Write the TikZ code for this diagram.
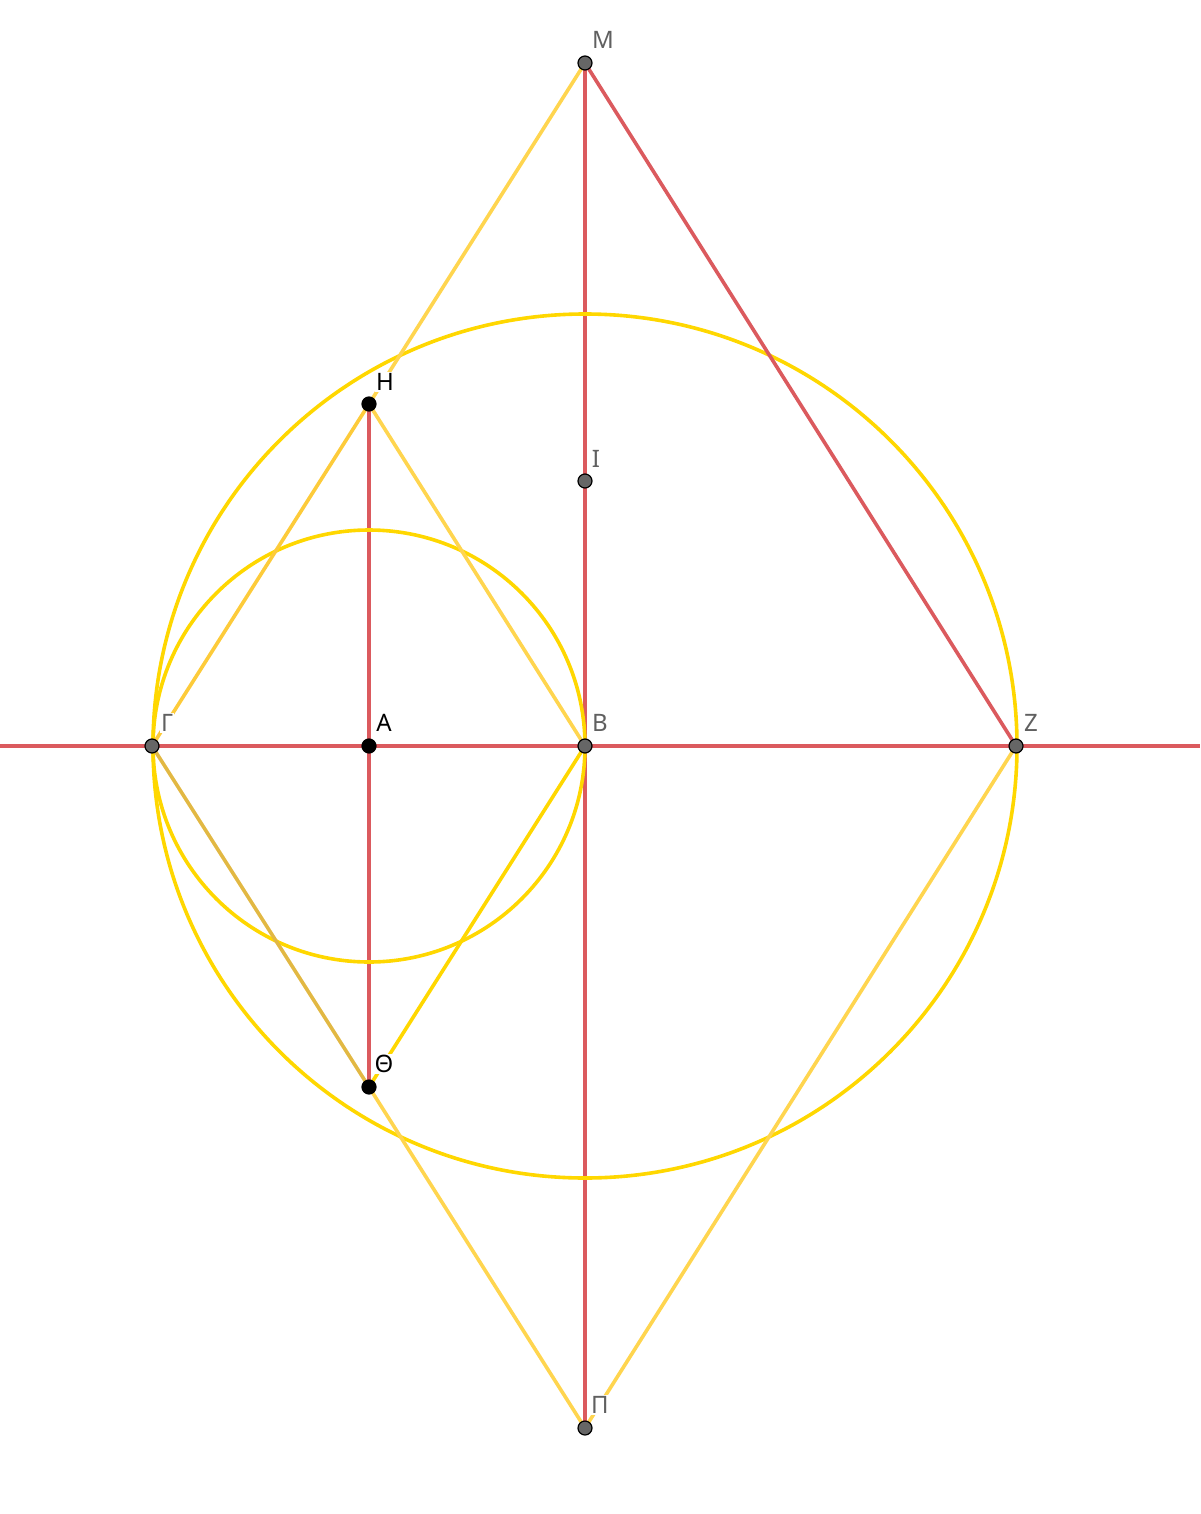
\documentclass[tikz,border=0pt]{standalone}
\usepackage{fontspec}
\setmainfont{Noto Sans}
\definecolor{redl}{HTML}{DB5A5E}
\definecolor{goldc}{HTML}{FFD700}
\definecolor{ylw}{HTML}{FFD54F}
\definecolor{ylwd}{HTML}{FDCB3A}
\definecolor{olive}{HTML}{E2B843}
\definecolor{lblgray}{HTML}{606060}
\definecolor{ptgray}{HTML}{666666}
\tikzset{
  redline/.style={draw=redl,line width=1.8pt},
  circ/.style={draw=goldc,line width=1.8pt},
  yline/.style={draw=ylw,line width=1.8pt},
  gpt/.style={circle,fill=ptgray,draw=black,line width=0.6pt,minimum size=7pt,inner sep=0pt},
  bpt/.style={circle,fill=black,draw=black,line width=0.6pt,minimum size=7pt,inner sep=0pt},
  glbl/.style={fill=white,inner sep=0.6pt,text=lblgray,font=\fontsize{12}{14}\selectfont},
  blbl/.style={fill=white,inner sep=0.6pt,text=black,font=\fontsize{12}{14}\selectfont}
}
\begin{document}
\begin{tikzpicture}[x=0.5pt,y=-0.5pt]
\useasboundingbox (0,0) rectangle (1200,1514);
\coordinate (M) at (585,63);
\coordinate (H) at (369,404);
\coordinate (I) at (585,481);
\coordinate (G) at (152,746);
\coordinate (A) at (369,746);
\coordinate (B) at (585,746);
\coordinate (Z) at (1016,746);
\coordinate (T) at (369,1087);
\coordinate (P) at (585,1428);
\coordinate (L) at (0,746);
\coordinate (R) at (1200,746);
% red lines
\draw[redline] (L) -- (R);
\draw[redline] (M) -- (P);
\draw[redline] (H) -- (T);
% circles
\draw[circ] (A) circle[radius=216];
\draw[circ] (B) circle[radius=432];
% yellow lines
\draw[yline] (H) -- (M);
\draw[yline,draw=ylwd] (G) -- (H);
\draw[yline] (H) -- (B);
\draw[yline,draw=goldc] (B) -- (T);
\draw[yline,draw=olive] (G) -- (T);
\draw[yline] (T) -- (P);
\draw[yline] (Z) -- (P);
\draw[redline] (M) -- (Z);
% labels
\node[glbl] (lM) at (603,40) {M};
\node[blbl] (lH) at (385,382) {H};
\node[glbl] (lI) at (596,459) {I};
\node[glbl] (lG) at (167,723) {Γ};
\node[blbl] (lA) at (384,723) {A};
\node[glbl] (lB) at (600,723) {B};
\node[glbl] (lZ) at (1031,723) {Z};
\node[blbl] (lT) at (384,1064) {Θ};
\node[glbl] (lP) at (600,1405) {Π};
% points
\node[gpt] (dM) at (M) {};
\node[bpt] (dH) at (H) {};
\node[gpt] (dI) at (I) {};
\node[gpt] (dG) at (G) {};
\node[bpt] (dA) at (A) {};
\node[gpt] (dB) at (B) {};
\node[gpt] (dZ) at (Z) {};
\node[bpt] (dT) at (T) {};
\node[gpt] (dP) at (P) {};
\end{tikzpicture}
\end{document}
